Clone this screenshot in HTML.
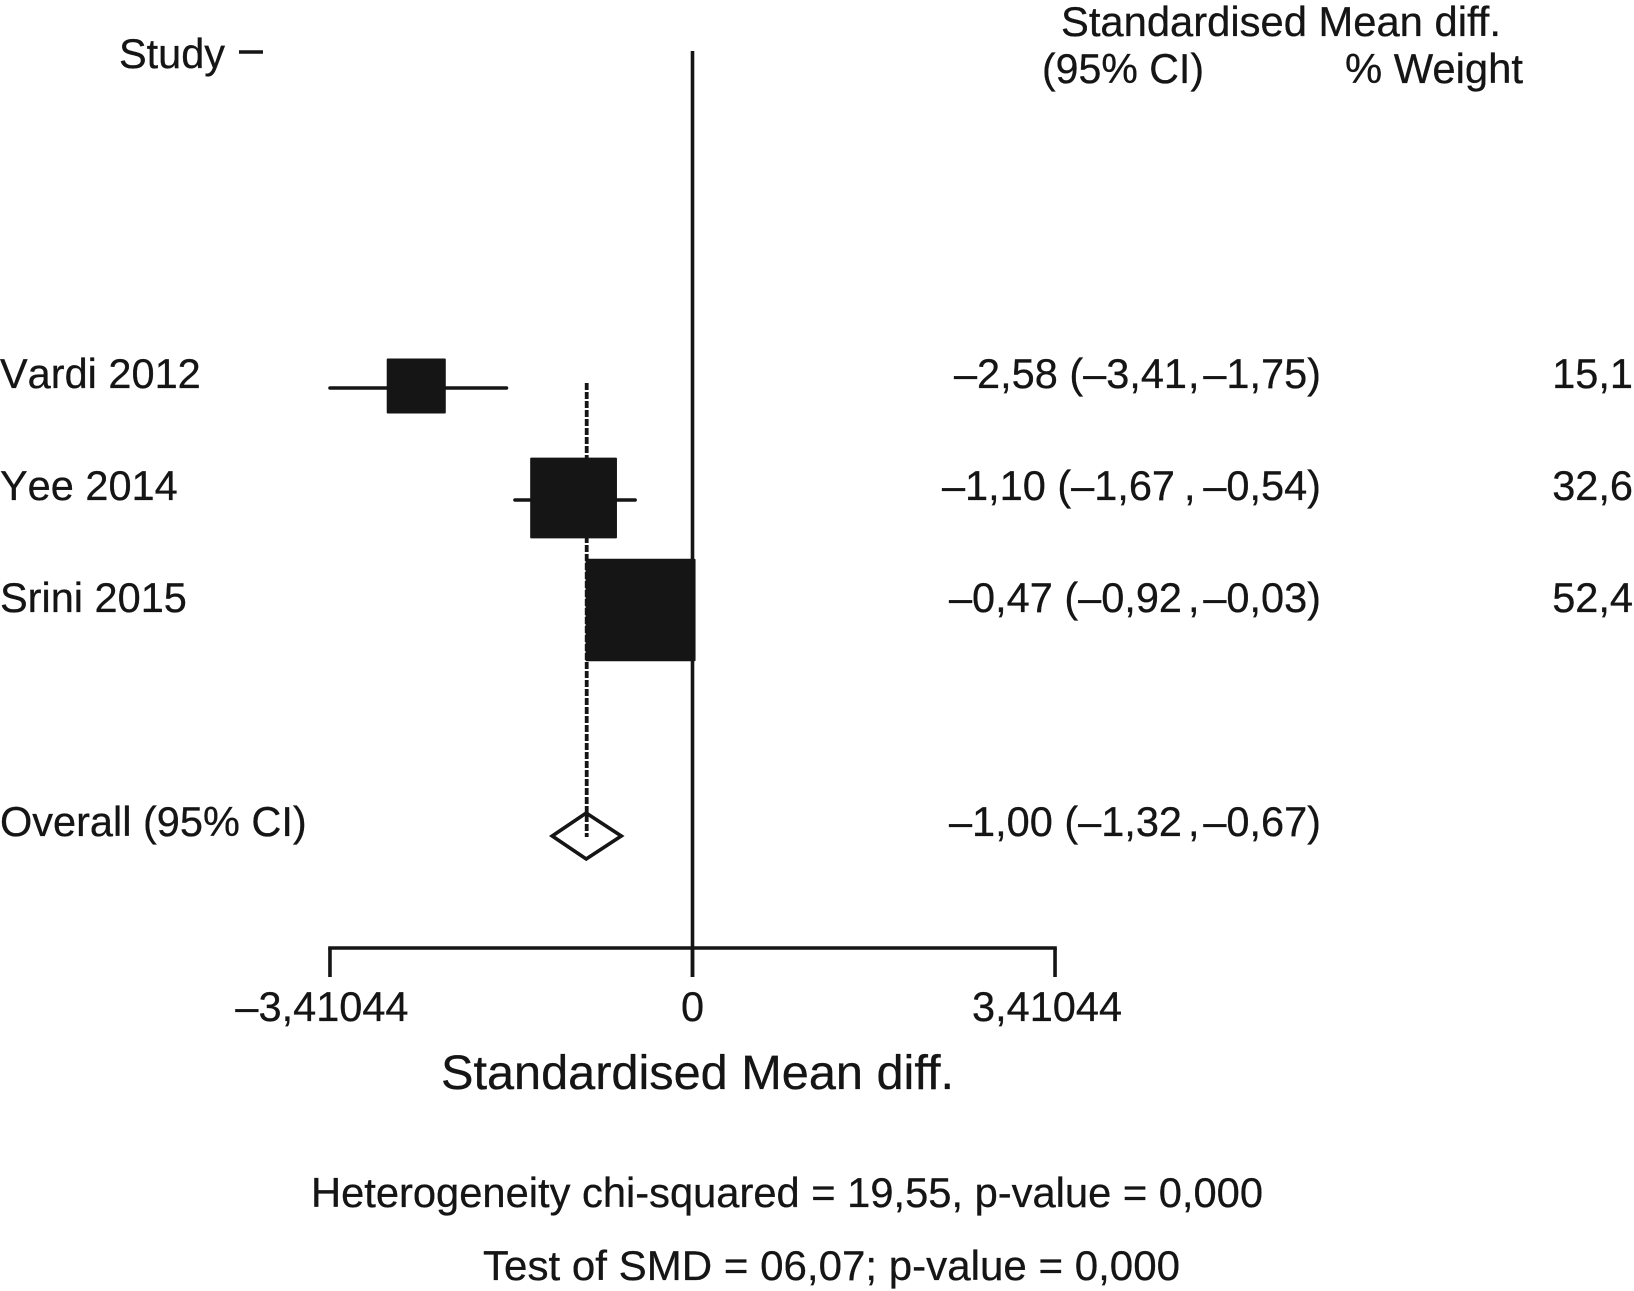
<!DOCTYPE html>
<html lang="en">
<head>
<meta charset="utf-8">
<title>Forest plot of standardised mean difference</title>
<style>
  html, body { margin: 0; padding: 0; background: #ffffff; }
  #chart { display: block; width: 1634px; height: 1291px; }
  text { font-family: "Liberation Sans", sans-serif; fill: #151515; font-size: 41.5px; stroke: #151515; stroke-width: 0.3px; }
  .no-kern { font-kerning: none; }
</style>
</head>
<body>
<svg id="chart" xmlns="http://www.w3.org/2000/svg" width="1634" height="1291" viewBox="0 0 1634 1291">
  <rect x="0" y="0" width="1634" height="1291" fill="#ffffff"/>
  <text x="119" y="68" textLength="106" lengthAdjust="spacingAndGlyphs">Study</text>
  <line x1="239" x2="263" y1="52" y2="52" stroke="#151515" stroke-width="3.5"/>
  <text x="1061" y="36" textLength="440" lengthAdjust="spacingAndGlyphs">Standardised Mean diff.</text>
  <text x="1042" y="83" textLength="162" lengthAdjust="spacingAndGlyphs">(95% CI)</text>
  <text x="1345" y="83" textLength="178" lengthAdjust="spacingAndGlyphs">% Weight</text>
  <g id="plot"></g>
  <text x="441" y="1089" style="font-size:48px" textLength="513" lengthAdjust="spacingAndGlyphs">Standardised Mean diff.</text>
  <text x="311" y="1207" textLength="952" lengthAdjust="spacingAndGlyphs">Heterogeneity chi-squared = 19,55, p-value = 0,000</text>
  <text x="483" y="1280" textLength="697" lengthAdjust="spacingAndGlyphs">Test of SMD = 06,07; p-value = 0,000</text>
</svg>
<script>
const studies = ['Vardi 2012', 'Yee 2014', 'Srini 2015'];
const effects = [-2.58, -1.10, -0.47];
const lowerCI = [-3.41, -1.67, -0.92];
const upperCI = [-1.75, -0.54, -0.03];
const weights = [15.1, 32.6, 52.4];
const overallLabel = 'Overall (95% CI)';
const overallEffect = -1.00;
const overallLower = -1.32;
const overallUpper = -0.67;
const axisTicks = [-3.41044, 0, 3.41044];
const axisTickLabels = ['–3,41044', '0', '3,41044'];

const INK = '#151515';
const xZero = 692.5;
const xUnit = 106.3;
const rowTop = 386;
const rowStep = 112;
const xScale = function (v) { return xZero + v * xUnit; };
const yScale = function (i) { return rowTop + i * rowStep; };
const boxWidth = function (w) { return 15.2 * Math.sqrt(w); };
const boxHeight = function (w) { return 14.15 * Math.sqrt(w); };
const formatNum = function (v, d) { return v.toFixed(d).replace('.', ',').replace('-', '–'); };
const overallY = 836;
const axisY = 948;
const tickBottom = 977;
const lineWidth = 3.6;
const plot = document.getElementById('plot');
const NS = 'http://www.w3.org/2000/svg';

function make(tag, attrs, text) {
  const el = document.createElementNS(NS, tag);
  Object.keys(attrs).forEach(function (k) { el.setAttribute(k, attrs[k]); });
  if (text !== undefined) el.textContent = text;
  plot.appendChild(el);
  return el;
}

function appendPiece(parent, x, anchor, text) {
  const piece = document.createElementNS(NS, 'tspan');
  piece.setAttribute('x', x);
  piece.setAttribute('text-anchor', anchor);
  piece.textContent = text;
  parent.appendChild(piece);
}

function fillEffectLabel(el, es, lo, hi, leftEnd, commaX) {
  appendPiece(el, leftEnd, 'end', formatNum(es, 2) + ' (' + formatNum(lo, 2));
  appendPiece(el, commaX, 'start', ',');
  appendPiece(el, 1321, 'end', formatNum(hi, 2) + ')');
}

const refLine = make('line', { x1: xScale(0), x2: xScale(0), y1: 51, y2: tickBottom, stroke: INK, 'stroke-width': lineWidth });



const axisLine = make('line', { x1: xScale(axisTicks[0]) - 1.8, x2: xScale(axisTicks[axisTicks.length - 1]) + 1.8, y1: axisY, y2: axisY, stroke: INK, 'stroke-width': lineWidth });



axisTicks.forEach(function (t, i) {
  const tick = make('line', { x1: xScale(t), x2: xScale(t), y1: axisY, y2: tickBottom, stroke: INK, 'stroke-width': lineWidth });
  
  
  const label = make('text', { x: xScale(t) - (t === 0 ? 0 : 8), y: 1021, 'text-anchor': 'middle' }, axisTickLabels[i]);
  
  
});

const overallLine = make('line', { x1: xScale(overallEffect) + 0.5, x2: xScale(overallEffect) + 0.5, y1: 383, y2: overallY + 1, stroke: INK, 'stroke-width': 3.8, 'stroke-dasharray': '7 2' });



const leftPieceEnds = [1187, 1175, 1182];
const commaOffsets = [1188, 1184, 1188];

studies.forEach(function (name, i) {
  const y = yScale(i);
  const ci = make('line', { x1: xScale(lowerCI[i]), x2: xScale(upperCI[i]), y1: y + 2, y2: y + 2, stroke: INK, 'stroke-width': lineWidth, 'stroke-linecap': 'round' });
  
  

  const bw = boxWidth(weights[i]);
  const bh = boxHeight(weights[i]);
  const box = make('rect', { x: xScale(effects[i]) - 2 - bw / 2, y: y - bh / 2, width: bw, height: bh, rx: 1, fill: INK });
  
  

  const studyLabel = make('text', { x: 0, y: y + 2, 'class': 'no-kern' }, name);
  
  

  const effectLabel = make('text', { y: y + 2 });
  
  
  fillEffectLabel(effectLabel, effects[i], lowerCI[i], upperCI[i], leftPieceEnds[i], commaOffsets[i]);

  const weightLabel = make('text', { x: 1633, y: y + 2, 'text-anchor': 'end' }, formatNum(weights[i], 1));
  
  
});

const dLeft = xScale(overallLower);
const dRight = xScale(overallUpper);
const dMid = xScale(overallEffect);
const diamond = make('polygon', { points: dLeft + ',' + overallY + ' ' + dMid + ',' + (overallY - 23) + ' ' + dRight + ',' + overallY + ' ' + dMid + ',' + (overallY + 23), fill: 'none', stroke: INK, 'stroke-width': 3.6 });



const overallName = make('text', { x: 0, y: overallY }, overallLabel);



const overallValue = make('text', { y: overallY });


fillEffectLabel(overallValue, overallEffect, overallLower, overallUpper, 1182, 1188);
</script>
</body>
</html>
